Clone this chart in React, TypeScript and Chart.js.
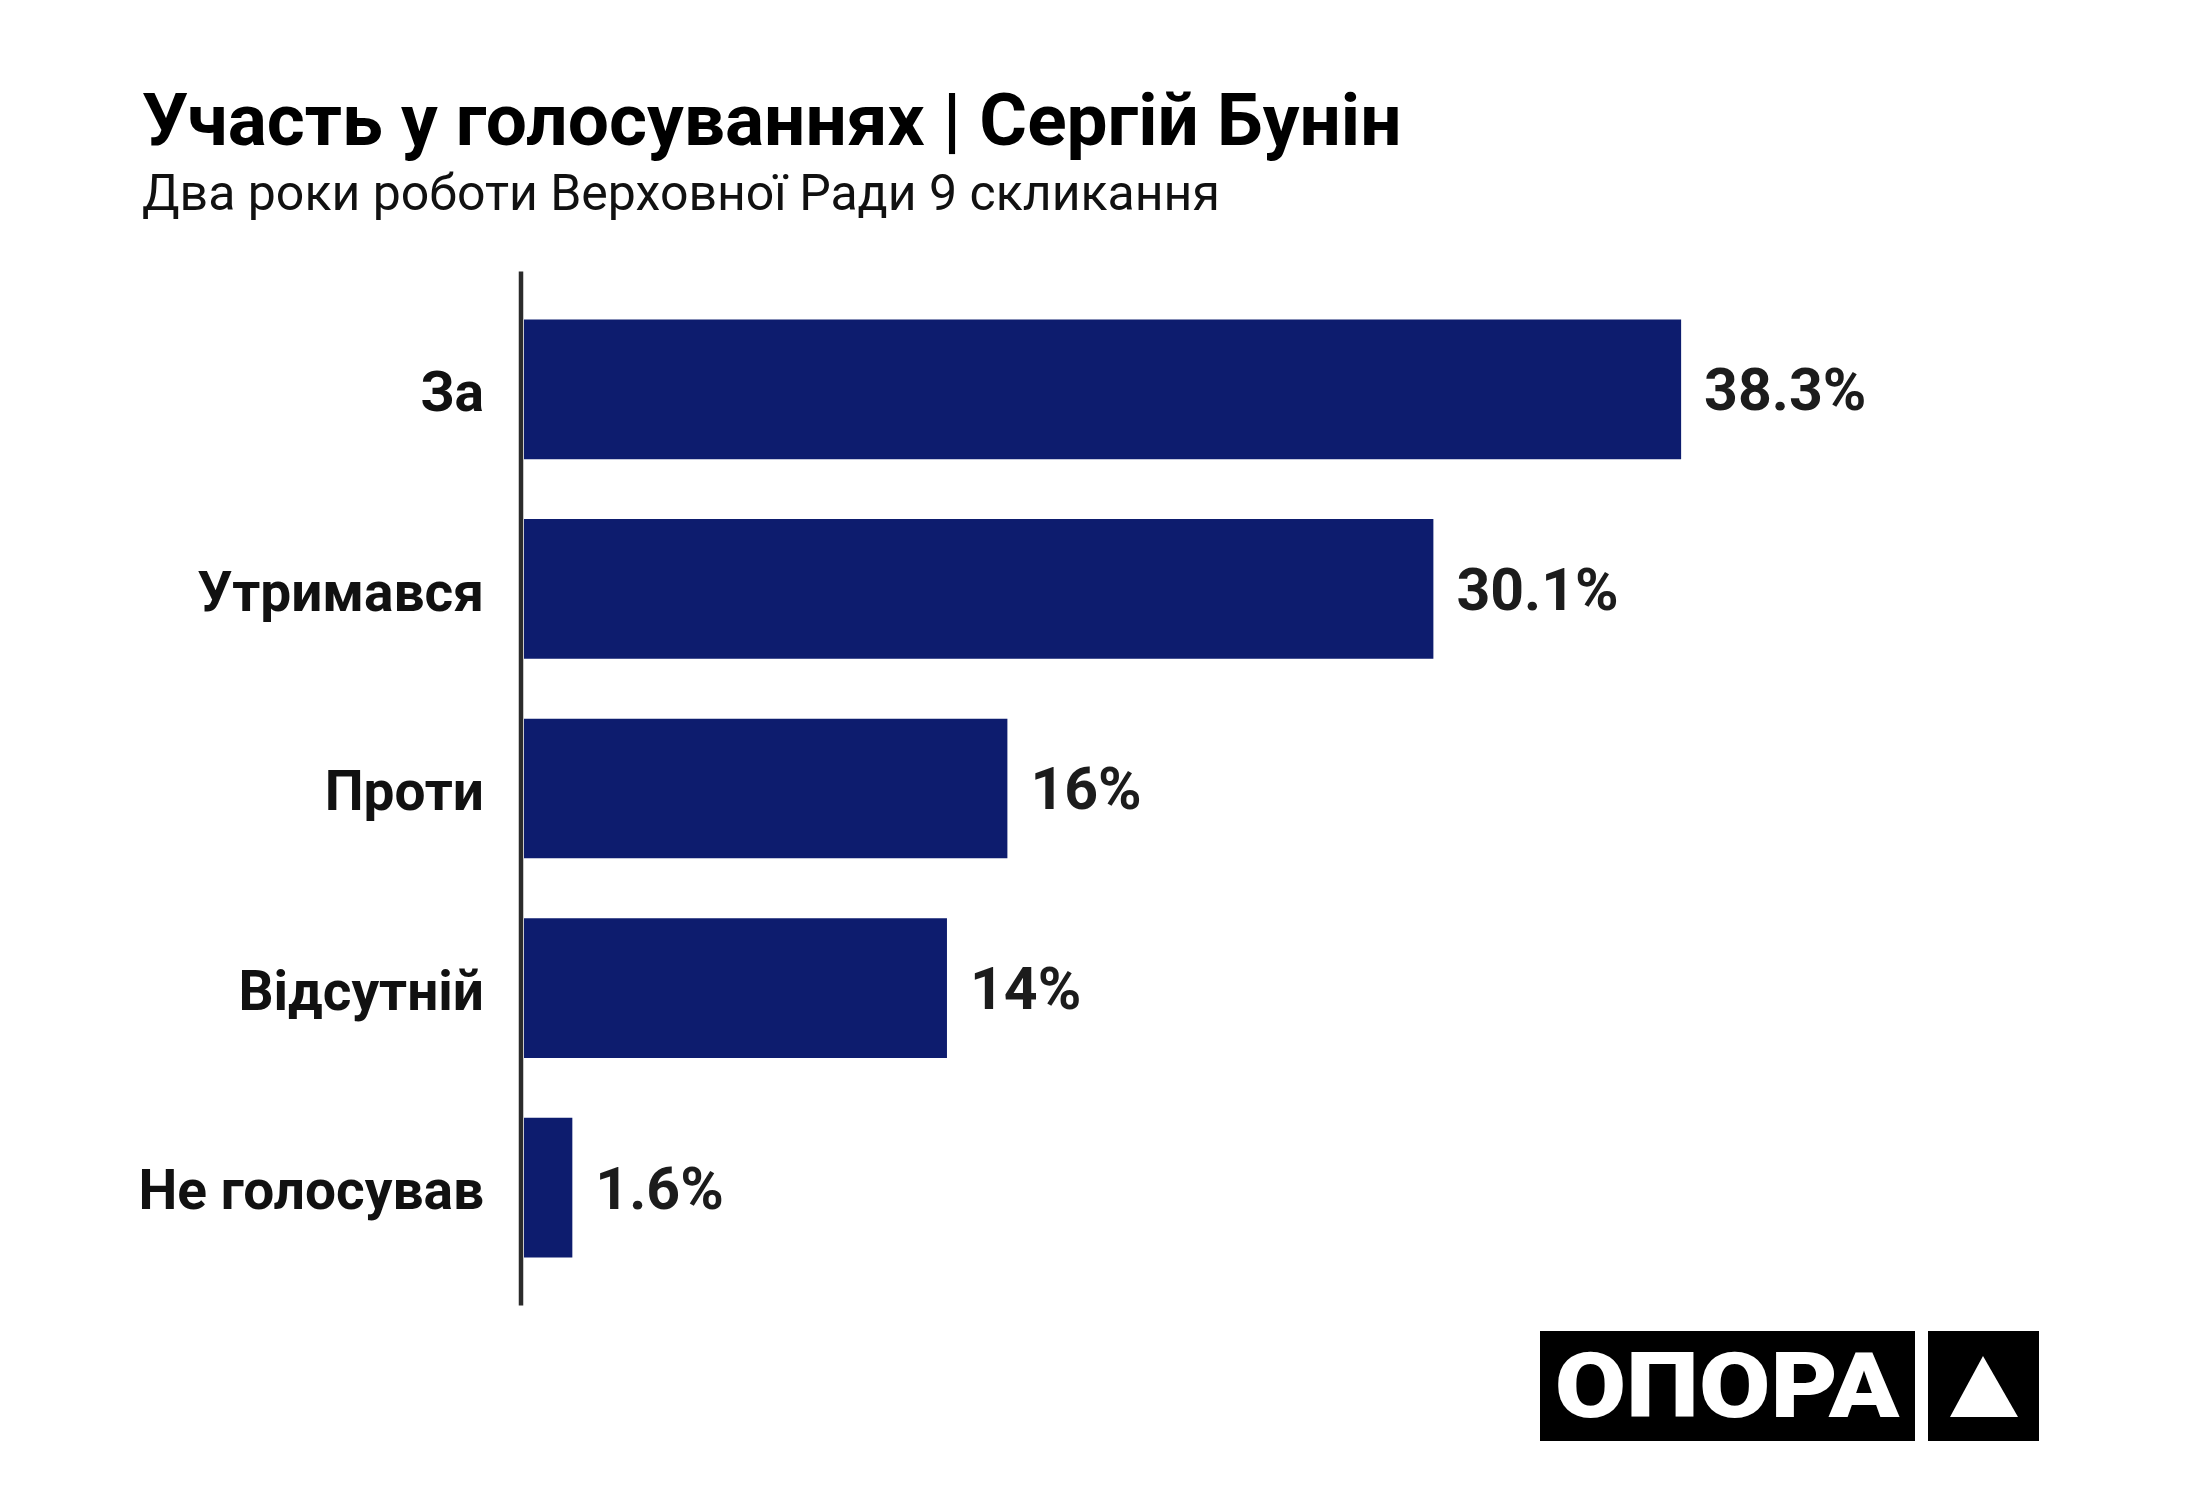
import React, { useEffect, useRef } from "react";
import { Chart, registerables } from "chart.js";

Chart.register(...registerables);

const categories = ["За", "Утримався", "Проти", "Відсутній", "Не голосував"];
const values = [38.3, 30.1, 16, 14, 1.6];
const valueLabels = ["38.3%", "30.1%", "16%", "14%", "1.6%"];
const titleText = "Участь у голосуваннях | Сергій Бунін";
const subtitleText = "Два роки роботи Верховної Ради 9 скликання";
const logoText = "ОПОРА";

const BAR_COLOR = "#0d1c6e";
const FONT = "Roboto, 'Noto Sans', sans-serif";

const axisLinePlugin = {
  id: "axisLine",
  beforeDatasetsDraw(chart: any) {
    const { ctx, chartArea } = chart;
    ctx.save();
    ctx.strokeStyle = "#2b2b2b";
    ctx.lineWidth = 4.5;
    const x = chartArea.left - 3;
    ctx.beginPath();
    ctx.moveTo(x, chartArea.top - 18);
    ctx.lineTo(x, chartArea.bottom + 18);
    ctx.stroke();
    ctx.restore();
  },
};

const valueLabelPlugin = {
  id: "valueLabels",
  afterDatasetsDraw(chart: any) {
    const { ctx } = chart;
    const meta = chart.getDatasetMeta(0);
    const size = 59;
    ctx.save();
    ctx.font = `bold ${size}px ${FONT}`;
    ctx.fillStyle = "#1c1c1c";
    ctx.textAlign = "left";
    ctx.textBaseline = "alphabetic";
    meta.data.forEach((bar: any, i: number) => {
      ctx.fillText(valueLabels[i], bar.x + 23, bar.y + size * 0.711 / 2);
    });
    ctx.restore();
  },
};

const decorPlugin = {
  id: "decor",
  afterDraw(chart: any) {
    const { ctx } = chart;
    ctx.save();
    // title
    ctx.textAlign = "left";
    ctx.textBaseline = "alphabetic";
    ctx.fillStyle = "#000";
    ctx.font = `bold 73px ${FONT}`;
    ctx.fillText(titleText, 142, 145);
    ctx.fillStyle = "#111";
    ctx.font = `normal 50px ${FONT}`;
    ctx.fillText(subtitleText, 142, 210);
    // logo
    ctx.fillStyle = "#000";
    ctx.fillRect(1540, 1331, 375, 110);
    ctx.fillRect(1928, 1331, 111, 110);
    ctx.fillStyle = "#fff";
    ctx.textAlign = "center";
    ctx.font = `900 90px ${FONT}`;
    ctx.save();
    ctx.translate(1727, 1417);
    ctx.scale(1.15, 1);
    ctx.fillText(logoText, 0, 0);
    ctx.restore();
    ctx.beginPath();
    ctx.moveTo(1983, 1356);
    ctx.lineTo(2018, 1417);
    ctx.lineTo(1950, 1417);
    ctx.closePath();
    ctx.fill();
    ctx.restore();
  },
};

export default function App() {
  const ref = useRef<HTMLCanvasElement | null>(null);
  useEffect(() => {
    if (!ref.current) return;
    const chart = new Chart(ref.current, {
      type: "bar",
      data: {
        labels: categories,
        datasets: [
          {
            data: values,
            backgroundColor: BAR_COLOR,
            borderWidth: 0,
            barPercentage: 0.7,
            categoryPercentage: 1.0,
          },
        ],
      },
      options: {
        indexAxis: "y",
        responsive: false,
        animation: false,
        devicePixelRatio: 1,
        layout: { padding: { left: 0, right: 2200 - 2034.6, top: 289.5, bottom: 212.5 } },
        plugins: {
          legend: { display: false },
          tooltip: { enabled: false },
          title: { display: false },
        },
        scales: {
          x: { display: false, min: 0, max: 50 },
          y: {
            offset: true,
            grid: { display: false, drawTicks: false },
            border: { display: false },
            ticks: {
              padding: 40,
              labelOffset: 8,
              color: "#111",
              font: { family: FONT, size: 55, weight: "bold" },
            },
            afterFit(scale: any) {
              scale.width = 524;
            },
          },
        },
      },
      plugins: [axisLinePlugin, valueLabelPlugin, decorPlugin],
    } as any);
    return () => chart.destroy();
  }, []);
  return (
    <div style={{ position: "absolute", left: 0, top: 0, width: 2200, height: 1500, background: "#fff" }}>
      <canvas ref={ref} width={2200} height={1500} style={{ display: "block" }} />
    </div>
  );
}
